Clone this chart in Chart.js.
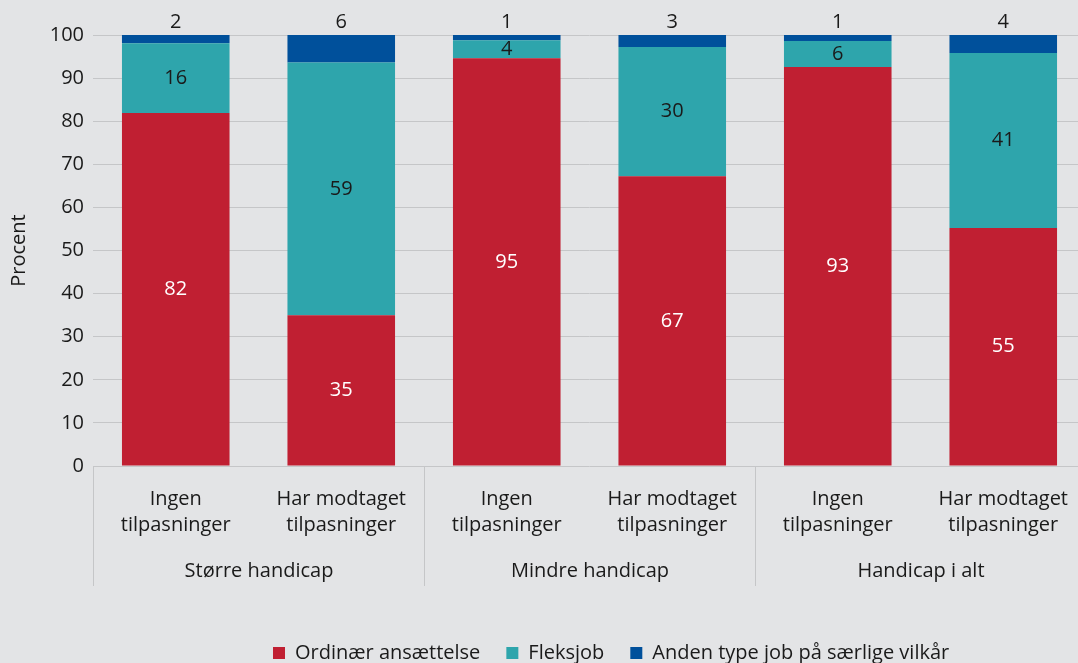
<!DOCTYPE html>
<html lang="da">
<head>
<meta charset="utf-8">
<title>Ansættelsesform efter handicap og tilpasninger</title>
<script src="https://cdn.jsdelivr.net/npm/chart.js@4.4.1/dist/chart.umd.min.js"></script>
<style>
  html, body { margin: 0; padding: 0; background: #e3e4e6; overflow: hidden; }
  #wrap { position: relative; width: 1090px; height: 663px; }
</style>
</head>
<body>
<div id="wrap"><canvas id="chart"></canvas></div>
<script>
// Data
const subLabels = [
    ['Ingen', 'tilpasninger'], ['Har modtaget', 'tilpasninger'],
    ['Ingen', 'tilpasninger'], ['Har modtaget', 'tilpasninger'],
    ['Ingen', 'tilpasninger'], ['Har modtaget', 'tilpasninger']
];
const groups = ['Større handicap', 'Mindre handicap', 'Handicap i alt'];
const ordinaer = [81.9, 35.0, 94.6, 67.2, 92.6, 55.2];
const fleksjob = [16.2, 58.6, 4.2, 30.0, 6.0, 40.6];
const anden = [1.9, 6.4, 1.2, 2.8, 1.4, 4.2];
const seriesNames = ['Ordinær ansættelse', 'Fleksjob', 'Anden type job på særlige vilkår'];

const FONT = '"Open Sans", "Noto Sans", sans-serif';
const TEXT = '#1a1a1a';
const GRID = '#c5c6c8';

// value labels: inside for the two lower series, above the bar for the top one
const valueLabels = {
    id: 'valueLabels',
    afterDatasetsDraw(chart) {
        const ctx = chart.ctx;
        ctx.save();
        ctx.font = '20px ' + FONT;
        ctx.textAlign = 'center';
        ctx.textBaseline = 'middle';
        chart.data.datasets.forEach((ds, di) => {
            const meta = chart.getDatasetMeta(di);
            meta.data.forEach((bar, i) => {
                const txt = String(Math.round(ds.data[i]));
                if (di === 2) {
                    ctx.fillStyle = TEXT;
                    ctx.fillText(txt, bar.x, bar.y - 13);
                } else {
                    ctx.fillStyle = di === 0 ? '#ffffff' : TEXT;
                    ctx.fillText(txt, bar.x, (bar.y + bar.base) / 2);
                }
            });
        });
        ctx.restore();
    }
};

// second level of the category axis
const groupAxis = {
    id: 'groupAxis',
    afterDraw(chart) {
        const {ctx, chartArea, scales: {x}} = chart;
        const step = x.getPixelForValue(1) - x.getPixelForValue(0);
        const top = chartArea.bottom;
        ctx.save();
        ctx.strokeStyle = GRID;
        ctx.lineWidth = 1;
        ctx.fillStyle = TEXT;
        ctx.font = '20px ' + FONT;
        ctx.textAlign = 'center';
        ctx.textBaseline = 'middle';
        groups.forEach((g, i) => {
            const a = Math.round(x.getPixelForValue(i * 2) - step / 2) + 0.5;
            const b = Math.round(x.getPixelForValue(i * 2 + 1) + step / 2) + 0.5;
            ctx.beginPath();
            ctx.moveTo(a, top);
            ctx.lineTo(a, top + 120);
            if (i === groups.length - 1) {
                ctx.moveTo(b, top);
                ctx.lineTo(b, top + 120);
            }
            ctx.stroke();
            ctx.fillText(g, (a + b) / 2, top + 105);
        });
        ctx.restore();
    }
};

// move the legend to where it sits in the original
const legendShift = {
    id: 'legendShift',
    afterLayout(chart) {
        const l = chart.legend;
        l.left += 247; l.right += 247;
        l.top += 10; l.bottom += 10;
    }
};

const ctx = document.getElementById('chart').getContext('2d');
new Chart(ctx, {
    type: 'bar',
    data: {
        labels: subLabels,
        datasets: [{
            label: seriesNames[0],
            data: ordinaer,
            backgroundColor: '#c01f32'
        }, {
            label: seriesNames[1],
            data: fleksjob,
            backgroundColor: '#2ea5ac'
        }, {
            label: seriesNames[2],
            data: anden,
            backgroundColor: '#00509b'
        }]
    },
    options: {
        responsive: true,
        maintainAspectRatio: false,
        animation: false,
        layout: { padding: { top: 35, right: 4, left: 0, bottom: 0 } },
        datasets: {
            bar: { categoryPercentage: 1, barPercentage: 0.65, borderWidth: 0 }
        },
        plugins: {
            tooltip: { enabled: false },
            legend: {
                position: 'bottom',
                align: 'start',
                labels: {
                    boxWidth: 12,
                    boxHeight: 12,
                    padding: 26,
                    color: TEXT,
                    font: { family: FONT, size: 20 }
                }
            }
        },
        scales: {
            x: {
                stacked: true,
                grid: { display: false },
                border: { display: false },
                ticks: {
                    autoSkip: false,
                    maxRotation: 0,
                    padding: 12,
                    color: TEXT,
                    font: { family: FONT, size: 20, lineHeight: 1.3 }
                },
                afterFit(scale) { scale.height = 141; }
            },
            y: {
                stacked: true,
                min: 0,
                max: 100,
                ticks: {
                    stepSize: 10,
                    padding: 9,
                    color: TEXT,
                    font: { family: FONT, size: 20 }
                },
                grid: { color: GRID, drawTicks: false },
                border: { display: false },
                title: {
                    display: true,
                    text: 'Procent',
                    color: TEXT,
                    padding: { top: 7, bottom: 0 },
                    font: { family: FONT, size: 20 }
                },
                afterFit(scale) { scale.width = 93; }
            }
        }
    },
    plugins: [valueLabels, groupAxis, legendShift]
});
</script>
</body>
</html>
